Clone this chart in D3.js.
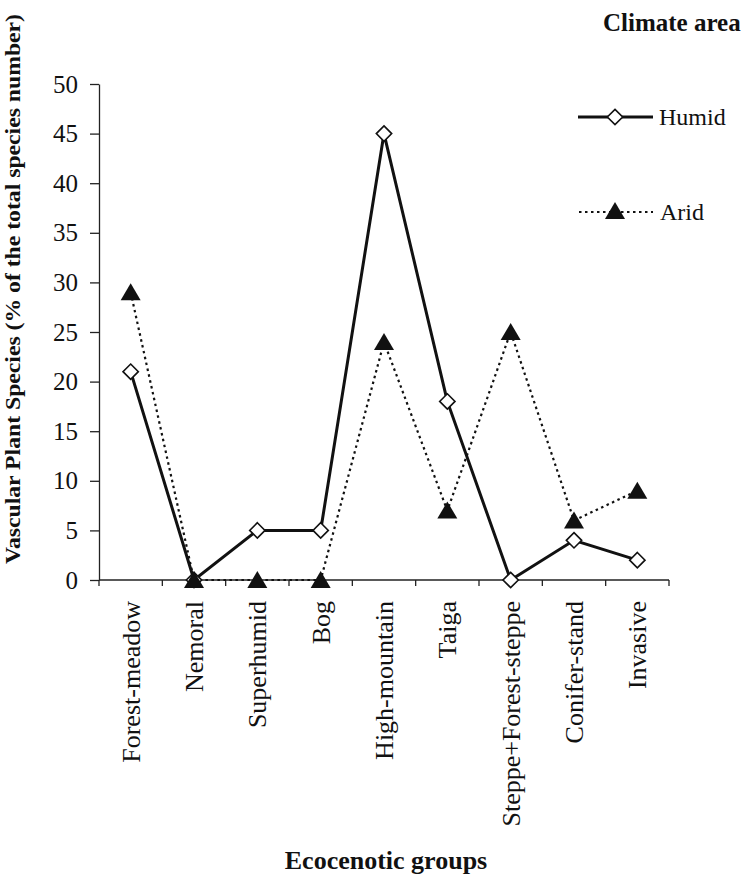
<!DOCTYPE html>
<html>
<head>
<meta charset="utf-8">
<script src="https://cdn.jsdelivr.net/npm/d3@7"></script>
<style>
  body { margin: 0; background: #fff; }
  svg { display: block; font-family: "Liberation Serif", "Times New Roman", serif; }
</style>
</head>
<body>
<div id="chart"></div>
<script>
// categories and series
const categories = ["Forest-meadow", "Nemoral", "Superhumid", "Bog", "High-mountain",
                    "Taiga", "Steppe+Forest-steppe", "Conifer-stand", "Invasive"];
const humid = [21, 0, 5, 5, 45, 18, 0, 4, 2];
const arid = [29, 0, 0, 0, 24, 7, 25, 6, 9];
const yTicks = [0, 5, 10, 15, 20, 25, 30, 35, 40, 45, 50];

const width = 752, height = 875;
const margin = { left: 99, right: 669, top: 84, bottom: 580 };

const svg = d3.select("#chart").append("svg")
    .attr("width", width)
    .attr("height", height);

// scales
const x = d3.scaleBand().domain(categories).range([margin.left, margin.right]).padding(0);
const y = d3.scaleLinear().domain([0, 50]).range([margin.bottom, margin.top]);
const cx = d => x(d) + x.bandwidth() / 2;

// y axis
const yAxis = svg.append("g")
    .attr("transform", `translate(${margin.left},0)`)
    .call(d3.axisLeft(y).tickValues(yTicks).tickSize(9).tickPadding(12).tickSizeOuter(0));
yAxis.select(".domain").attr("stroke", "#222").attr("stroke-width", 1.3);
yAxis.selectAll(".tick line").attr("stroke", "#222").attr("stroke-width", 1.3);
yAxis.selectAll(".tick text")
    .attr("font-size", "25px")
    .attr("font-family", "Liberation Serif")
    .attr("fill", "#111");

// x axis line with ticks on band edges
svg.append("line")
    .attr("x1", margin.left).attr("x2", margin.right)
    .attr("y1", margin.bottom).attr("y2", margin.bottom)
    .attr("stroke", "#222").attr("stroke-width", 1.3);
const edges = categories.map(c => x(c)).concat([margin.right]);
svg.selectAll(".xtick")
    .data(edges)
    .enter().append("line")
    .attr("x1", d => d).attr("x2", d => d)
    .attr("y1", margin.bottom).attr("y2", margin.bottom + 6)
    .attr("stroke", "#222").attr("stroke-width", 1.3);

// category labels (rotated)
svg.selectAll(".xlabel")
    .data(categories)
    .enter().append("text")
    .attr("transform", d => `translate(${cx(d)},601) rotate(-90)`)
    .attr("text-anchor", "end")
    .attr("dy", "0.35em")
    .attr("font-size", "26px")
    .attr("fill", "#111")
    .text(d => d);

// axis titles
svg.append("text")
    .attr("transform", "translate(20,289) rotate(-90)")
    .attr("text-anchor", "middle")
    .attr("font-size", "22px")
    .attr("font-weight", "bold")
    .attr("fill", "#111")
    .attr("textLength", 550)
    .attr("lengthAdjust", "spacingAndGlyphs")
    .text("Vascular Plant Species (% of the total species number)");

svg.append("text")
    .attr("x", 386).attr("y", 869)
    .attr("text-anchor", "middle")
    .attr("font-size", "26px")
    .attr("font-weight", "bold")
    .attr("fill", "#111")
    .text("Ecocenotic groups");

// lines
const line = d3.line()
    .x((d, i) => cx(categories[i]))
    .y(d => y(d));

svg.append("path")
    .datum(humid)
    .attr("d", line)
    .attr("fill", "none")
    .attr("stroke", "#111")
    .attr("stroke-width", 3);

svg.append("path")
    .datum(arid)
    .attr("d", line)
    .attr("fill", "none")
    .attr("stroke", "#111")
    .attr("stroke-width", 2.2)
    .attr("stroke-dasharray", "2.5,3.5");

// markers
const diamond = d3.symbol().type(d3.symbolDiamond2).size(150);
const triangle = "M0,-9L10,8L-10,8Z";

svg.selectAll(".humid-pt")
    .data(humid)
    .enter().append("path")
    .attr("d", diamond)
    .attr("transform", (d, i) => `translate(${cx(categories[i])},${y(d)})`)
    .attr("fill", "#fff")
    .attr("stroke", "#111")
    .attr("stroke-width", 1.6);

svg.selectAll(".arid-pt")
    .data(arid)
    .enter().append("path")
    .attr("d", triangle)
    .attr("transform", (d, i) => `translate(${cx(categories[i])},${y(d)})`)
    .attr("fill", "#111");

// legend
svg.append("text")
    .attr("x", 603).attr("y", 31)
    .attr("font-size", "25px")
    .attr("font-weight", "bold")
    .attr("fill", "#111")
    .text("Climate area");

const legend = svg.append("g");
legend.append("line")
    .attr("x1", 578).attr("x2", 653).attr("y1", 117).attr("y2", 117)
    .attr("stroke", "#111").attr("stroke-width", 3);
legend.append("path")
    .attr("d", diamond)
    .attr("transform", "translate(615,117)")
    .attr("fill", "#fff").attr("stroke", "#111").attr("stroke-width", 1.6);
legend.append("text")
    .attr("x", 659).attr("y", 117).attr("dy", "0.35em")
    .attr("font-size", "24px").attr("fill", "#111")
    .text("Humid");

legend.append("line")
    .attr("x1", 579).attr("x2", 653).attr("y1", 212).attr("y2", 212)
    .attr("stroke", "#111").attr("stroke-width", 2.2)
    .attr("stroke-dasharray", "2.5,3.5");
legend.append("path")
    .attr("d", triangle)
    .attr("transform", "translate(615,211)")
    .attr("fill", "#111");
legend.append("text")
    .attr("x", 660).attr("y", 212).attr("dy", "0.35em")
    .attr("font-size", "24px").attr("fill", "#111")
    .text("Arid");
</script>
</body>
</html>
